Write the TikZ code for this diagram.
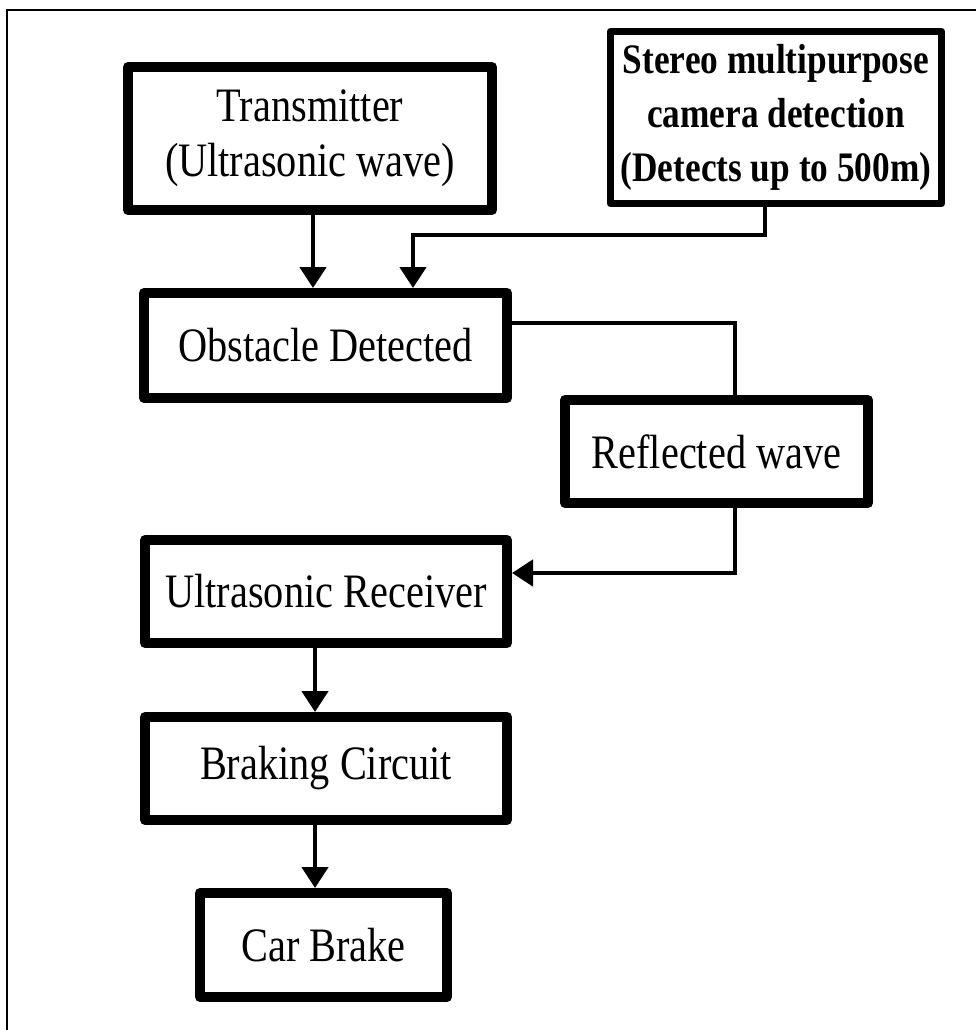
\documentclass[tikz,border=0pt]{standalone}
\usepackage{fontspec}
\setmainfont{Liberation Serif}[FakeStretch=0.84]
\usetikzlibrary{arrows.meta}

\begin{document}
\begin{tikzpicture}[x=.5pt,y=-.5pt,
  blk/.style={draw,line width=5pt,line join=round,inner sep=0pt,align=center,font=\fontsize{24}{27.5}\selectfont},
  cambox/.style={blk,line width=3.5pt,font=\bfseries\fontsize{21}{27}\selectfont},
  wire/.style={line width=2.3pt},
  arr/.style={wire,-{Triangle[width=13pt,length=10.5pt]}}]
\useasboundingbox (0,0) rectangle (976,1030);
\draw[line width=1.3pt] (7,1030)--(7,10)--(976,10);
\node[blk,minimum width=182pt,minimum height=71.5pt] (tx) at (310,138.5){Transmitter\\(Ultrasonic wave)};
\node[cambox,minimum width=165.5pt,minimum height=86pt] (cam) at (776,117.5){Stereo multipurpose\\camera detection\\(Detects up to 500m)};
\node[blk,minimum width=181.5pt,minimum height=52.5pt] (obs) at (325.5,345.5){Obstacle Detected};
\node[blk,minimum width=151.5pt,minimum height=51.5pt] (refl) at (716.5,451.5){Reflected wave};
\node[blk,minimum width=181pt,minimum height=51.5pt] (rx) at (326,591.5){Ultrasonic Receiver};
\node[blk,minimum width=181pt,minimum height=51.5pt] (brk) at (326,768.5){Braking Circuit};
\node[blk,minimum width=123.5pt,minimum height=52pt] (car) at (323.5,945){Car Brake};
\coordinate (camknee) at (413,235);
\draw[arr] ([xshift=1.5pt]tx.south) -- ([xshift=1.5pt]tx.south |- obs.north);
\draw[arr] ([xshift=-5.5pt]cam.south) |- (camknee) -- (camknee |- obs.north);
\draw[wire] ([yshift=11.25pt]obs.east) -| ([xshift=9.25pt]refl.north);
\draw[arr] ([xshift=9.25pt]refl.south) |- ([yshift=9.25pt]rx.east);
\draw[arr] ([xshift=-5.5pt]rx.south) -- ([xshift=-5.5pt]rx.south |- brk.north);
\draw[arr] ([xshift=-5.5pt]brk.south) -- ([xshift=-5.5pt]brk.south |- car.north);
\end{tikzpicture}
\end{document}
